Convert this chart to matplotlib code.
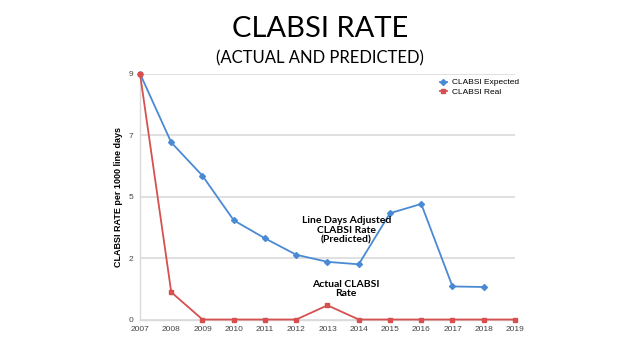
import matplotlib
matplotlib.use("Agg")
import matplotlib.pyplot as plt

years = list(range(2007, 2020))
expected_years = list(range(2007, 2019))
expected = [9.0, 6.48, 5.26, 3.63, 2.97, 2.37, 2.11, 2.02, 3.89, 4.23, 1.21, 1.19]
real = [9.0, 1.0, 0, 0, 0, 0, 0.52, 0, 0, 0, 0, 0, 0]

y_ticks = [0, 2.25, 4.5, 6.75, 9]
y_tick_labels = ["0", "2", "5", "7", "9"]

BLUE = "#4A8AD4"
RED = "#D5504F"
GRID = "#DADADA"

fig = plt.figure(figsize=(6.4, 3.59), dpi=100)
ax = fig.add_axes([0.21875, 0.110, 0.5859, 0.685])

ax.plot(expected_years, expected, color=BLUE, lw=1.3, marker="D", ms=3,
        label="CLABSI Expected", clip_on=False, zorder=3)
ax.plot(years, real, color=RED, lw=1.3, marker="s", ms=3.5,
        label="CLABSI Real", clip_on=False, zorder=3)

ax.set_xlim(2007, 2019)
ax.set_ylim(0, 9)
ax.set_xticks(years)
ax.set_xticklabels([str(y) for y in years], fontsize=6, color="#444444",
                   family="Liberation Sans")
ax.set_yticks(y_ticks)
ax.set_yticklabels(y_tick_labels, fontsize=6, color="#444444",
                   family="Liberation Sans")
ax.tick_params(length=0, pad=5)

ax.grid(axis="y", color=GRID, lw=1.2)
ax.set_axisbelow(True)
for side in ["top", "right"]:
    ax.spines[side].set_visible(False)
for side in ["left", "bottom"]:
    ax.spines[side].set_color(GRID)
    ax.spines[side].set_linewidth(1.0)

ax.set_ylabel("CLABSI RATE per 1000 line days", fontsize=6.5, fontweight="bold",
              family="Liberation Sans", labelpad=4)

ax.legend(loc="upper right", bbox_to_anchor=(1.03, 1.01), frameon=False,
          prop={"family": "Liberation Sans", "size": 6},
          handlelength=0.8, handletextpad=0.6, labelspacing=0.2)

ax.text(2013.6, 3.27, "Line Days Adjusted\nCLABSI Rate\n(Predicted)",
        ha="center", va="center", fontsize=7.5, fontweight="bold",
        family="Lato", linespacing=1.1)
ax.text(2013.6, 1.12, "Actual CLABSI\nRate", ha="center", va="center",
        fontsize=7.5, fontweight="bold", family="Lato", linespacing=1.1)

fig.text(0.5, 0.918, "CLABSI RATE", ha="center", va="center", fontsize=21,
         family="Lato")
fig.text(0.5, 0.838, "(ACTUAL AND PREDICTED)", ha="center", va="center",
         fontsize=12, family="Lato")

fig.savefig("out.png", dpi=100)
